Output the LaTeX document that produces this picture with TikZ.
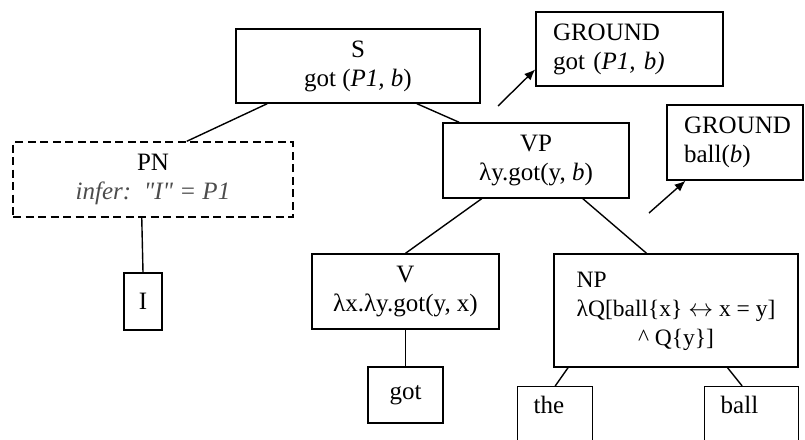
\documentclass[tikz,border=0pt]{standalone}
\usepackage{fontspec}
\setmainfont{Liberation Serif}
\newfontfamily\rawserif{Liberation Serif}
\usepackage{tikz}
\usetikzlibrary{calc,arrows.meta}

\tikzset{
    box/.style={draw=black, line width=1.4pt, rectangle, inner sep=0pt, align=center,
        font=\fontsize{25}{29}\selectfont},
    lbox/.style={box, align=left, inner xsep=17pt},
    leaf/.style={box, align=left, anchor=north west, inner xsep=16pt, inner ysep=6pt,
        text height=21pt, text depth=45pt},
    edge/.style={line width=1.4pt},
    grnd/.style={line width=1.4pt, -{Latex[length=11pt,width=9pt]}}
}

\begin{document}
\begin{tikzpicture}[x=1pt, y=-1pt]
    \useasboundingbox (0,0) rectangle (805,439);
    \clip (0,0) rectangle (805,439);

    \node[box, minimum width=244pt, minimum height=74pt] (S) at (358,66) {S\\got (\textit{P1, b})};
    \node[box, dashed, dash pattern=on 8pt off 4.5pt, minimum width=280pt, minimum height=75pt] (PN) at (153,179.5)
        {PN\\\textcolor{black!70}{\rawserif\itshape infer:\ \ "I" = P1}};
    \node[box, minimum width=38pt, minimum height=57pt] (I) at (143,301.5) {I};
    \node[box, minimum width=186pt, minimum height=75pt] (VP) at (536,160.5) {VP\\λy.got(y, \textit{b})};
    \node[lbox, text width=153pt, minimum height=74pt] (G1) at (629.5,49) {GROUND\\got (\textit{P1, b)}};
    \node[lbox, text width=102pt, minimum height=75pt] (G2) at (735,142.5) {GROUND\\ball(\textit{b})};
    \node[box, minimum width=187pt, minimum height=75pt] (V) at (405.5,291.5) {V\\λx.λy.got(y, x)};
    \node[box, minimum width=75pt, minimum height=56pt] (got) at (405.5,395) {got};
    \node[box, font=\fontsize{23.5}{29}\selectfont, minimum width=244pt, minimum height=113pt] (NP) at (676,310.5)
        {\begin{tabular}{@{}l@{}}NP\\λQ[ball\{x\} $\leftrightarrow$ x = y]\\\multicolumn{1}{@{}c@{}}{\textasciicircum\ Q\{y\}]}\end{tabular}};
    \node[leaf, text width=43pt] (the) at (517,386) {the};
    \node[leaf, text width=62pt] (ball) at (704,386) {ball};

    \coordinate (g1) at (498,106);
    \coordinate (g2) at (649,213);

    \draw[edge] ($(S.south west)!.13!(S.south east)$) to ($(PN.north west)!.62!(PN.north east)$);
    \draw[edge] ($(S.south west)!.74!(S.south east)$) to ($(VP.north west)!.09!(VP.north east)$);
    \draw[edge] ($(PN.south west)!.46!(PN.south east)$) to (I.north);
    \draw[edge] ($(VP.south west)!.21!(VP.south east)$) to (V.north);
    \draw[edge] ($(VP.south west)!.75!(VP.south east)$) to ($(NP.north west)!.38!(NP.north east)$);
    \draw[edge] (V.south) to (got.north);
    \draw[edge] ($(NP.south west)!.06!(NP.south east)$) to ($(the.north west)!.5!(the.north east)$);
    \draw[edge] ($(NP.south west)!.71!(NP.south east)$) to ($(ball.north west)!.4!(ball.north east)$);
    \draw[grnd] (g1) to ($(G1.north west)!.77!(G1.south west)$);
    \draw[grnd] (g2) to ($(G2.south west)!.14!(G2.south east)$);
\end{tikzpicture}
\end{document}
